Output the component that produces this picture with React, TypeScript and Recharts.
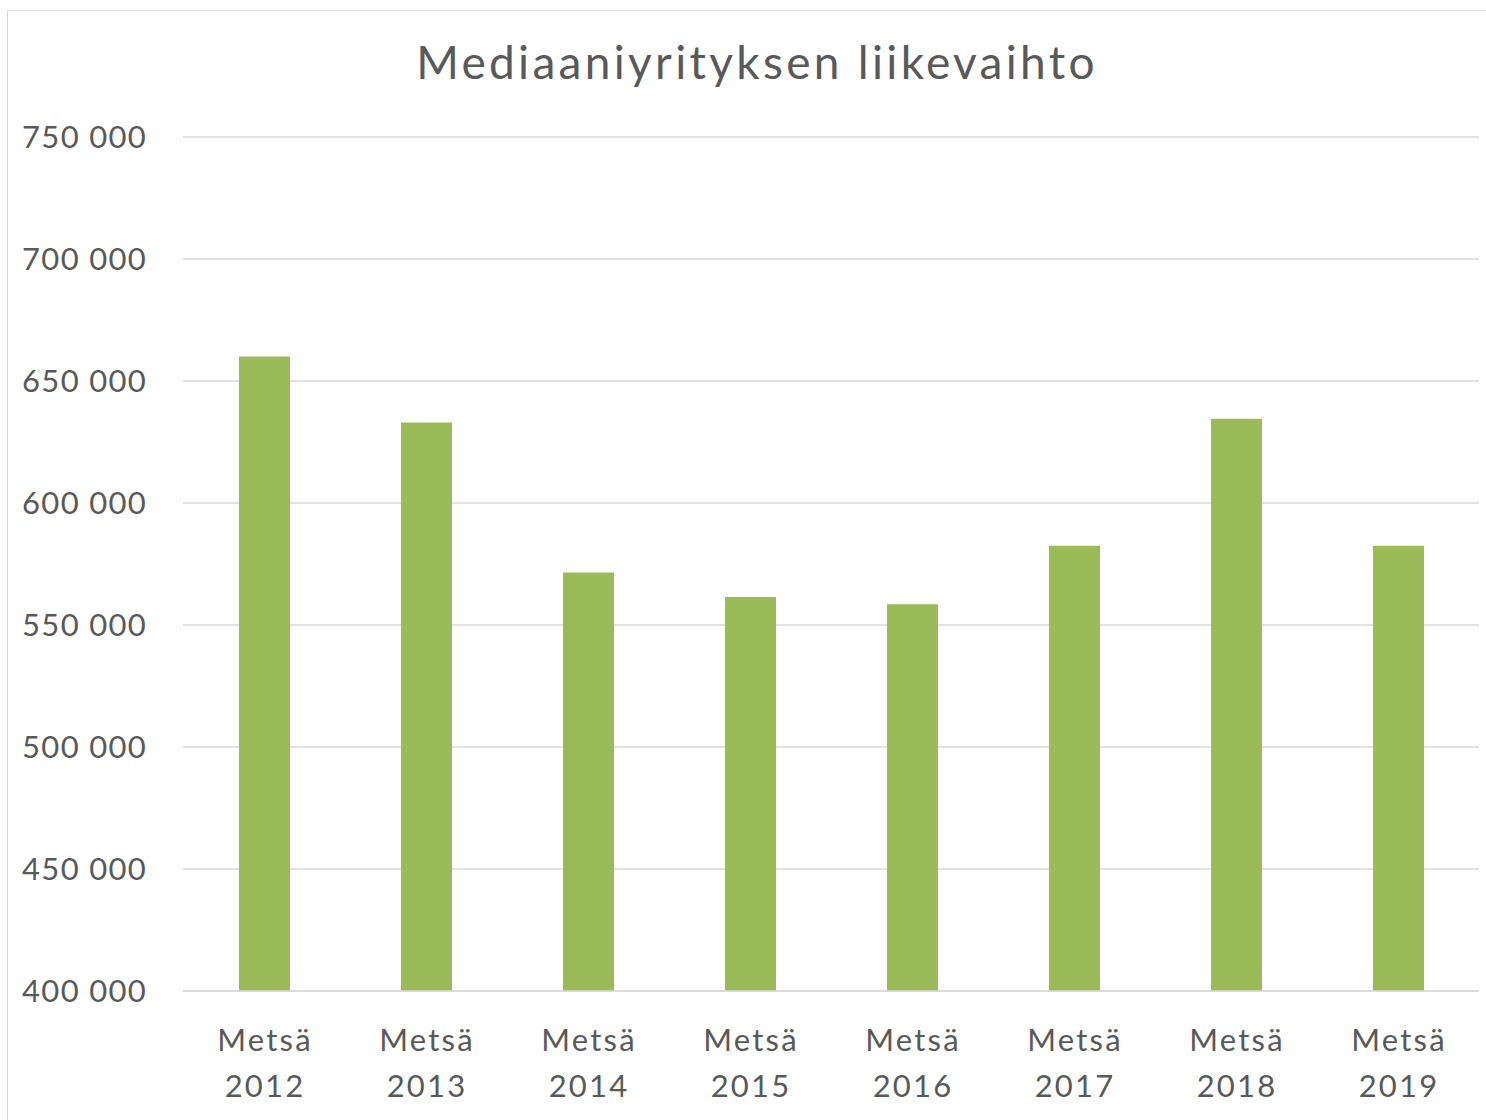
import React from "react";
import { BarChart, Bar, XAxis, YAxis, CartesianGrid } from "recharts";

// Revenue per year
const years = ["2012", "2013", "2014", "2015", "2016", "2017", "2018", "2019"];
const revenue = [660000, 633000, 571500, 561500, 558500, 582500, 634500, 582500];
const yTicks = [400000, 450000, 500000, 550000, 600000, 650000, 700000, 750000];

const data = years.map((y, i) => ({ name: `Metsä ${y}`, value: revenue[i] }));

const TEXT = "#595959";
const FONT = "Lato, 'Open Sans', sans-serif";

const fmt = (v: number) => String(v).replace(/\B(?=(\d{3})+(?!\d))/g, " ");

const XTick = (props: any) => {
  const { x, y, payload } = props;
  const [a, b] = String(payload.value).split(" ");
  return (
    <g transform={`translate(${x + 1},${y})`}>
      <text textAnchor="middle" fill={TEXT} fontSize={31} fontFamily={FONT} letterSpacing={2.2}>
        <tspan x={0} dy={52}>{a}</tspan>
        <tspan x={0} dy={46}>{b}</tspan>
      </text>
    </g>
  );
};

export default function App() {
  return (
    <div style={{ position: "absolute", left: 0, top: 0, width: 1486, height: 1120, background: "#fff", overflow: "hidden" }}>
      <div
        style={{
          position: "absolute",
          left: 7,
          top: 10,
          width: 1490,
          height: 1120,
          borderTop: "1px solid #d9d9d9",
          borderLeft: "1px solid #d9d9d9",
        }}
      />
      <div
        style={{
          position: "absolute",
          top: 34,
          left: 0,
          width: 1514,
          textAlign: "center",
          fontFamily: FONT,
          fontSize: 46,
          letterSpacing: 3.3,
          color: TEXT,
          lineHeight: "56px",
        }}
      >
        Mediaaniyrityksen liikevaihto
      </div>
      <div style={{ position: "absolute", left: 0, top: 0 }}>
        <BarChart width={1486} height={1120} data={data} margin={{ top: 137, right: 7, bottom: 0, left: 0 }}>
          <CartesianGrid vertical={false} stroke="#d9d9d9" strokeWidth={1.5} />
          <XAxis
            dataKey="name"
            axisLine={{ stroke: "#d9d9d9", strokeWidth: 1.5 }}
            tickLine={false}
            tick={<XTick />}
            interval={0}
            height={129}
          />
          <YAxis
            domain={[400000, 750000]}
            ticks={yTicks}
            tickFormatter={fmt}
            axisLine={false}
            tickLine={false}
            tickSize={0}
            tickMargin={36}
            width={183}
            tick={{ fill: TEXT, fontSize: 31, fontFamily: FONT, letterSpacing: 1.3 }}
            allowDataOverflow
          />
          <Bar dataKey="value" fill="#9bbb59" barSize={51} isAnimationActive={false} />
        </BarChart>
      </div>
    </div>
  );
}
